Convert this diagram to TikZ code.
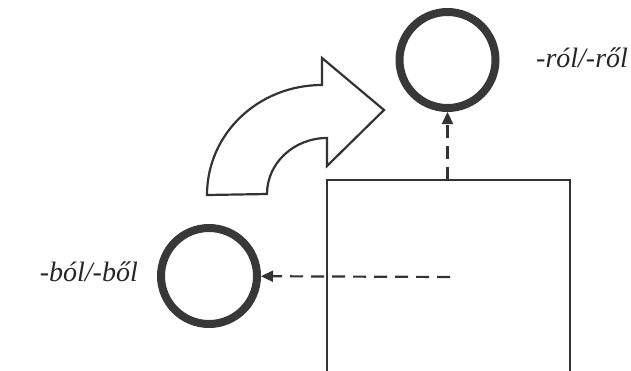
\documentclass[tikz,border=0pt]{standalone}
\usepackage{fontspec}
\newfontfamily\lblfont{Liberation Serif Italic}
\usetikzlibrary{arrows.meta}
\begin{document}
\begin{tikzpicture}[x=1pt,y=-1pt,
  ring/.style={circle,draw=black!78,line width=8pt,minimum size=96pt,inner sep=0pt},
  thin/.style={draw=black!80,line width=2.2pt},
  dashconn/.style={draw=black!80,line width=2.2pt,dash pattern=on 13pt off 8pt,-{Triangle[length=12pt,width=11pt]}},
  lbl/.style={font=\fontsize{28}{30}\selectfont\lblfont,text=black!85,inner sep=0pt}]
\useasboundingbox (0,0) rectangle (631,370);
\node[ring] (top) at (447.5,60) {};
\node[ring] (bot) at (209,276) {};
\node[lbl,anchor=west] (rl) at (536,58) {-ról/-ről};
\node[lbl,anchor=east] (bl) at (138,272) {-ból/-ből};
% rectangle (open at bottom, cut by frame)
\coordinate (rtl) at (327,180);
\coordinate (rtr) at (570,180);
\coordinate (rbl) at (327,372);
\coordinate (rbr) at (570,372);
\draw[thin] (rbl) -- (rtl) -- (rtr) -- (rbr);
% dashed connectors
\coordinate (vstart) at (447.5,180);
\coordinate (hstart) at (450,277);
\draw[dashconn] (vstart) -- (top);
\draw[dashconn] (hstart) -- (bot);
% curved arrow
\draw[thin,fill=white,line join=miter]
  (207,195) .. controls (207,134) and (258,85) .. (322,85)
  -- (322,58) -- (384,110) -- (327,166) -- (327,138)
  .. controls (294,138) and (267,163) .. (267,194) -- cycle;
\end{tikzpicture}
\end{document}
